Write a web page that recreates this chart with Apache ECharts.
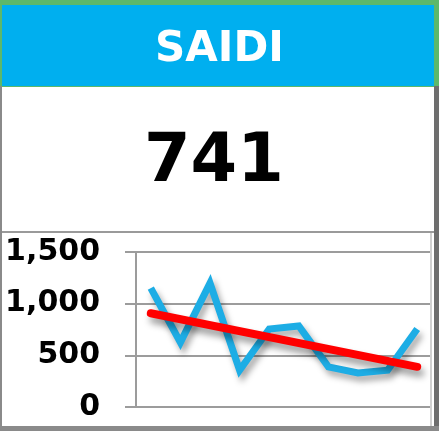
<!DOCTYPE html>
<html>
<head>
<meta charset="UTF-8">
<title>SAIDI</title>
<script src="https://cdn.jsdelivr.net/npm/echarts@6/dist/echarts.min.js"></script>
<style>
  html, body { margin: 0; padding: 0; background: #fff; }
  #chart { width: 439px; height: 433px; }
</style>
</head>
<body>
<div id="chart"></div>
<script>
// data
var titleText = 'SAIDI';
var currentValue = '741';
var months = ['1', '2', '3', '4', '5', '6', '7', '8', '9', '10'];
var saidi = [1150, 625, 1199, 356, 755, 784, 389, 330, 356, 755];
// linear trend line, only the two ends
var trend = [907, null, null, null, null, null, null, null, null, 389];
var yTicks = [0, 500, 1000, 1500];

var myChart = echarts.init(document.getElementById('chart'));

var option = {
    backgroundColor: '#fff',
    animation: false,
    graphic: [
        // green frame + blue header
        { type: 'rect', shape: { x: 0, y: 0, width: 439, height: 87 }, style: { fill: '#5DB86A' }, z: 0 },
        { type: 'rect', shape: { x: 2, y: 5, width: 432, height: 81 }, style: { fill: '#00AFEF' }, z: 1 },
        // gray frame of the white body
        { type: 'rect', shape: { x: 0, y: 86, width: 2, height: 345 }, style: { fill: '#8a8a8a' }, z: 1 },
        { type: 'rect', shape: { x: 434, y: 86, width: 5, height: 345 }, style: { fill: '#6e6e6e' }, z: 1 },
        { type: 'rect', shape: { x: 0, y: 426, width: 439, height: 5 }, style: { fill: '#8a8a8a' }, z: 1 },
        { type: 'rect', shape: { x: 2, y: 231, width: 432, height: 2 }, style: { fill: '#9a9a9a' }, z: 1 },
        { type: 'rect', shape: { x: 430, y: 233, width: 2, height: 193 }, style: { fill: '#d0d0d0' }, z: 1 },
        {
            type: 'text', left: 'center', top: 29, z: 5,
            style: {
                text: titleText, fill: '#fff',
                font: 'bold 42px "DejaVu Sans", sans-serif'
            }
        },
        {
            type: 'text', left: 144, top: 130, z: 5,
            style: {
                text: currentValue, fill: '#000',
                font: 'bold 67px "DejaVu Sans", sans-serif'
            }
        }
    ],
    grid: { left: 136, right: 7, top: 252, bottom: 26 },
    xAxis: {
        type: 'category',
        data: months,
        boundaryGap: true,
        axisLine: { show: false },
        axisTick: { show: false },
        axisLabel: { show: false },
        splitLine: { show: false }
    },
    yAxis: {
        type: 'value',
        min: yTicks[0],
        max: yTicks[yTicks.length - 1],
        interval: 500,
        axisLine: { show: true, lineStyle: { color: '#9c9c9c', width: 2 } },
        axisTick: { show: true, length: 11, lineStyle: { color: '#9c9c9c', width: 2 } },
        splitLine: { show: true, lineStyle: { color: '#9c9c9c', width: 2 } },
        axisLabel: {
            margin: 36,
            color: '#000',
            fontSize: 30,
            fontWeight: 'bold',
            fontFamily: 'DejaVu Sans',
            formatter: function (v) { return v.toLocaleString('en-US'); }
        }
    },
    series: [
        {
            name: 'SAIDI',
            type: 'line',
            data: saidi,
            symbol: 'none',
            lineStyle: {
                color: '#1DADE5', width: 7, join: 'miter',
                shadowColor: 'rgba(0,0,0,0.35)', shadowBlur: 6, shadowOffsetX: 3, shadowOffsetY: 5
            },
            z: 3
        },
        {
            name: 'Trend',
            type: 'line',
            data: trend,
            connectNulls: true,
            symbol: 'none',
            lineStyle: {
                color: '#FF0000', width: 8, cap: 'round',
                shadowColor: 'rgba(0,0,0,0.4)', shadowBlur: 7, shadowOffsetX: 3, shadowOffsetY: 6
            },
            z: 4
        }
    ]
};
myChart.setOption(option);
</script>
</body>
</html>
